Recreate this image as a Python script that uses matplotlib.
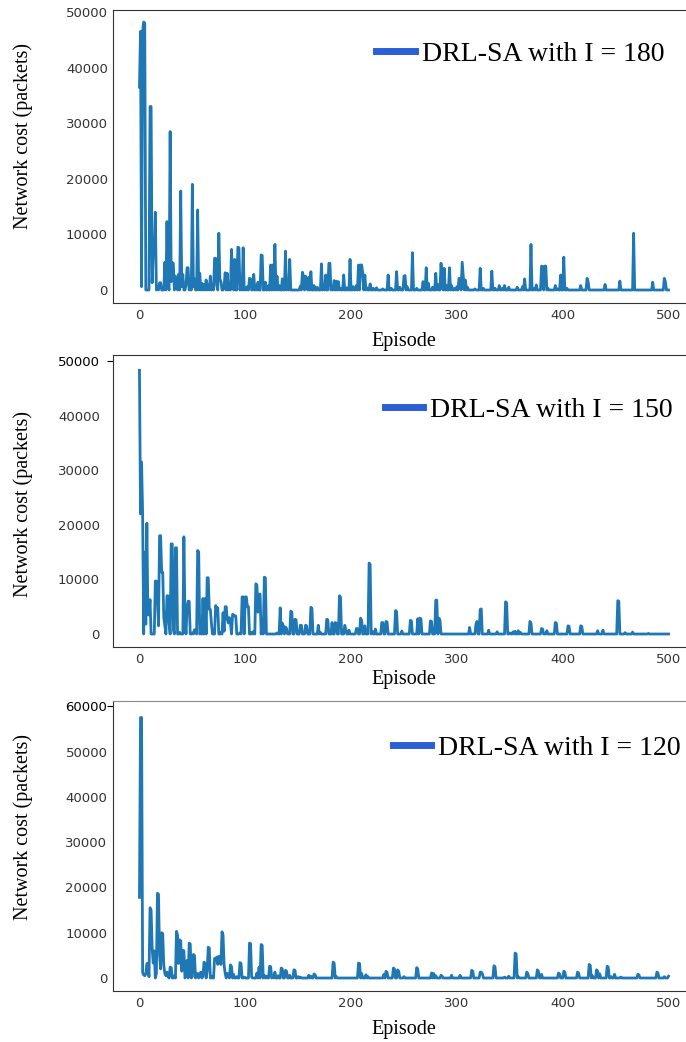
import numpy as np
import matplotlib
matplotlib.use("Agg")
import matplotlib.pyplot as plt
from matplotlib.lines import Line2D

# Values (episode, network cost); episodes not listed sit at 0
n_episodes = 501
x_ticks = [0, 100, 200, 300, 400, 500]

ep_180 = [0, 1, 2, 3, 4, 5, 10, 11, 12, 13, 14, 15, 17, 19, 20, 24, 26, 27, 29, 30,
          31, 32, 34, 35, 37, 39, 40, 41, 44, 45, 46, 48, 50, 51, 52, 55, 57, 59, 61, 63,
          65, 67, 69, 71, 72, 73, 75, 76, 77, 80, 81, 83, 85, 87, 88, 90, 93, 94, 96, 98,
          100, 102, 104, 105, 108, 110, 112, 115, 116, 119, 122, 124, 126, 128, 130, 132, 135, 138, 140, 142,
          152, 154, 155, 157, 158, 160, 162, 165, 168, 172, 174, 176, 179, 180, 182, 184, 186, 188, 190, 193,
          196, 199, 202, 205, 207, 209, 210, 211, 213, 215, 218, 221, 224, 230, 235, 238, 243, 246, 250, 251,
          253, 258, 262, 268, 271, 273, 277, 280, 282, 285, 286, 288, 290, 293, 295, 298, 300, 302, 303, 305,
          306, 308, 310, 317, 322, 325, 333, 336, 340, 343, 345, 349, 357, 362, 364, 370, 373, 375, 380, 381,
          383, 384, 386, 393, 395, 398, 401, 404, 417, 423, 424, 440, 454, 467, 485, 496, 497]
cost_180 = [36500, 46500, 600, 46500, 48200, 48000, 33000, 33000, 1300, 6500, 6300, 14000, 600, 1300, 1300, 5000, 12300, 800, 28500, 1500,
            4900, 4800, 2500, 1500, 2800, 17800, 600, 2800, 800, 4000, 4000, 1000, 19000, 600, 2000, 14400, 3000, 1200, 1000, 1800,
            1000, 2500, 500, 5700, 5700, 800, 10200, 2000, 1500, 800, 3100, 3000, 700, 7300, 2000, 5500, 7700, 7600, 1000, 7600,
            500, 600, 2100, 2000, 2800, 800, 1400, 6300, 6200, 1400, 800, 4500, 4500, 8200, 2500, 800, 2000, 7000, 1500, 5500,
            700, 3200, 2500, 2500, 1500, 2300, 3300, 800, 500, 4700, 800, 2700, 4800, 4800, 500, 1700, 1600, 1500, 300, 2700,
            400, 5500, 600, 800, 4500, 4500, 4500, 3000, 2700, 400, 1100, 300, 400, 200, 2700, 300, 3300, 500, 2500, 2600,
            600, 6700, 300, 1500, 4000, 1200, 500, 3000, 1000, 4800, 1500, 3900, 800, 4000, 800, 300, 600, 2100, 1800, 5000,
            2500, 1800, 500, 200, 3900, 300, 3400, 300, 800, 300, 800, 500, 500, 600, 2000, 8200, 300, 900, 4300, 4200,
            4300, 4300, 300, 800, 200, 2700, 5900, 300, 800, 2100, 1500, 1000, 1600, 10200, 1400, 2100, 1500]

ep_150 = [0, 1, 2, 3, 5, 6, 7, 8, 9, 10, 15, 16, 17, 18, 19, 20, 21, 22, 23, 24,
          26, 27, 28, 30, 31, 32, 34, 35, 38, 42, 43, 45, 46, 47, 50, 52, 53, 55, 56, 58,
          60, 62, 64, 65, 66, 67, 68, 72, 73, 74, 77, 79, 80, 81, 82, 83, 84, 85, 86, 88,
          89, 90, 91, 95, 97, 98, 100, 101, 102, 103, 106, 108, 110, 111, 112, 113, 114, 116, 118, 119,
          130, 133, 135, 136, 138, 139, 143, 144, 147, 148, 152, 153, 157, 158, 162, 163, 169, 171, 177, 178,
          182, 185, 186, 189, 190, 194, 195, 198, 205, 206, 209, 210, 213, 217, 218, 220, 223, 229, 230, 233,
          234, 242, 243, 248, 256, 257, 263, 265, 266, 275, 276, 280, 281, 283, 284, 312, 318, 319, 322, 323,
          330, 338, 346, 347, 350, 353, 355, 358, 360, 369, 370, 380, 381, 385, 393, 394, 405, 406, 417, 418,
          433, 438, 452, 453, 459, 466, 481]
cost_150 = [48300, 22000, 31500, 22000, 15000, 1800, 20300, 3500, 3500, 6300, 9700, 9700, 6500, 1500, 18000, 18000, 11300, 11300, 3000, 1500,
            7000, 7000, 2000, 16500, 16500, 800, 15800, 15800, 300, 17800, 3000, 4800, 6000, 6000, 200, 800, 500, 15300, 15000, 400,
            6500, 6500, 10300, 10300, 4500, 4500, 2000, 5200, 4800, 4800, 300, 3900, 500, 5000, 5000, 2700, 2000, 3000, 2000, 3600,
            3500, 3300, 3300, 200, 6800, 6800, 6800, 6800, 5000, 5000, 300, 500, 9200, 9000, 4000, 7300, 7300, 2700, 10400, 10300,
            200, 4800, 2000, 1500, 1300, 1000, 4200, 4000, 2700, 2600, 1600, 1600, 1600, 1500, 4900, 4700, 1600, 300, 2700, 2600,
            2100, 2100, 2000, 7000, 6800, 1600, 800, 700, 1000, 1000, 2900, 2500, 1500, 13000, 12800, 500, 900, 2100, 2100, 2300,
            2200, 4300, 4100, 550, 2500, 2400, 2800, 2900, 2800, 2400, 2300, 6200, 6200, 2900, 2500, 1200, 1800, 2300, 4500, 4600,
            700, 400, 5900, 5700, 200, 400, 500, 600, 300, 2300, 2000, 1000, 900, 600, 2100, 2000, 1500, 1400, 1500, 1400,
            600, 700, 6100, 6000, 250, 350, 100]

ep_120 = [0, 1, 2, 3, 4, 5, 6, 7, 8, 9, 10, 11, 12, 13, 14, 16, 17, 18, 19, 20,
          21, 22, 23, 24, 25, 26, 27, 29, 30, 33, 35, 36, 37, 38, 39, 40, 41, 42, 44, 45,
          47, 48, 50, 51, 52, 54, 55, 57, 58, 60, 61, 62, 64, 65, 66, 68, 71, 72, 73, 74,
          75, 76, 77, 78, 79, 80, 81, 83, 84, 86, 87, 89, 92, 95, 96, 99, 104, 105, 106, 111,
          113, 115, 116, 118, 120, 123, 124, 126, 128, 131, 134, 135, 138, 139, 142, 146, 147, 150, 152, 160,
          162, 165, 166, 183, 184, 186, 207, 208, 210, 214, 216, 231, 233, 234, 240, 241, 244, 245, 250, 262,
          263, 276, 278, 280, 285, 286, 295, 303, 314, 315, 322, 323, 324, 335, 336, 345, 349, 355, 356, 358,
          366, 367, 376, 377, 380, 396, 397, 401, 402, 414, 415, 425, 426, 428, 432, 433, 435, 442, 443, 446,
          449, 455, 471, 472, 489, 490, 496, 500]
cost_120 = [17800, 57500, 57500, 1200, 700, 500, 900, 3200, 3200, 300, 15500, 15000, 6500, 3300, 6000, 1000, 18700, 18500, 5000, 2000,
            10000, 9800, 2800, 1000, 500, 1300, 400, 2400, 2300, 500, 10300, 9500, 3200, 8400, 8200, 1500, 6100, 6000, 2000, 3900,
            7700, 7500, 300, 5200, 5000, 500, 1000, 500, 1300, 400, 3500, 3300, 1500, 6800, 6600, 400, 4300, 4200, 4600, 3000,
            4800, 4700, 3000, 10200, 9500, 2800, 1000, 1000, 800, 2900, 2500, 800, 300, 3400, 3200, 200, 7700, 7600, 200, 1100,
            2400, 7400, 7200, 600, 400, 2600, 2500, 400, 1300, 500, 2200, 2000, 1700, 1500, 600, 1800, 1700, 300, 200, 600,
            400, 900, 700, 3500, 3300, 300, 3300, 3200, 1000, 700, 300, 800, 1500, 1200, 2200, 2000, 1800, 1500, 300, 2300,
            2000, 1100, 1000, 500, 600, 400, 600, 600, 1700, 1500, 1300, 1300, 1000, 2700, 2500, 200, 400, 5500, 5300, 300,
            1300, 1000, 1800, 1500, 800, 1100, 900, 1500, 1300, 1300, 1100, 3000, 2800, 500, 1800, 1500, 900, 2600, 2400, 300,
            800, 200, 800, 700, 1300, 1100, 300, 400]

labels = ["DRL-SA with I = 180", "DRL-SA with I = 150", "DRL-SA with I = 120"]
y_ticks = [[0, 10000, 20000, 30000, 40000, 50000],
           [0, 10000, 20000, 30000, 40000, 50000],
           [0, 10000, 20000, 30000, 40000, 50000, 60000]]
series = [(ep_180, cost_180), (ep_150, cost_150), (ep_120, cost_120)]

# Layout (figure pixels, measured on the reference)
W, H = 686, 1042
left, right = 113, 695
tops = [10, 355, 701]
bottoms = [303, 647, 991]
ylims = [(-2340, 50360), (-2380, 51100), (-2870, 61150)]
legend_pos = [(664, 54), (673, 410), (681, 748)]
ylabel_y = [0.57, 0.49, 0.566]
xlabel_y = [-0.098, -0.08, -0.10]
ytick_pad = [3.6, 9.5, 4.0]
top_spine = ["#333333", "#333333", "#8a8a8a"]

fig = plt.figure(figsize=(W / 100, H / 100), dpi=100)
episodes = np.arange(n_episodes)

for i, (eps, costs) in enumerate(series):
    cost = np.zeros(n_episodes)
    cost[eps] = costs

    ax = fig.add_axes([left / W, 1 - bottoms[i] / H, (right - left) / W, (bottoms[i] - tops[i]) / H])
    ax.plot(episodes, cost, color="#1f77b4", lw=2)
    ax.set_xlim(-25, 525)
    ax.set_ylim(*ylims[i])
    ax.set_xticks(x_ticks)
    ax.set_yticks(y_ticks[i])
    ax.tick_params(length=0, labelsize=9.5, labelcolor="#333333")
    ax.tick_params(axis="x", pad=4)
    ax.tick_params(axis="y", pad=ytick_pad[i])
    for lab in ax.get_xticklabels() + ax.get_yticklabels():
        lab.set_family("DejaVu Sans")
    for side in ["left", "bottom"]:
        ax.spines[side].set_color("#333333")
    ax.spines["top"].set_color(top_spine[i])
    ax.spines["right"].set_visible(False)

    # the top y tick has a visible mark in the lower two panels
    if i > 0:
        t = ax.yaxis.get_major_ticks()[-1]
        t.tick1line.set_markersize(4)
        t.tick1line.set_color("black")
        t.label1.set_color("black")

    ax.set_ylabel("Network cost (packets)", family="Liberation Serif", fontsize=14.5)
    ax.yaxis.set_label_coords(-0.137, ylabel_y[i])
    ax.set_xlabel("Episode", family="Liberation Serif", fontsize=14.5)
    ax.xaxis.set_label_coords(0.5, xlabel_y[i])

    handle = Line2D([], [], color="#2b5fd5", lw=5)
    lx, ly = legend_pos[i]
    ax.legend([handle], [labels[i]], loc="center right",
              bbox_to_anchor=(lx / W, 1 - ly / H), bbox_transform=fig.transFigure,
              frameon=False, prop={"family": "Liberation Serif", "size": 20},
              handlelength=1.4, handletextpad=0.25, borderpad=0, borderaxespad=0)

fig.savefig("out.png", dpi=100)
